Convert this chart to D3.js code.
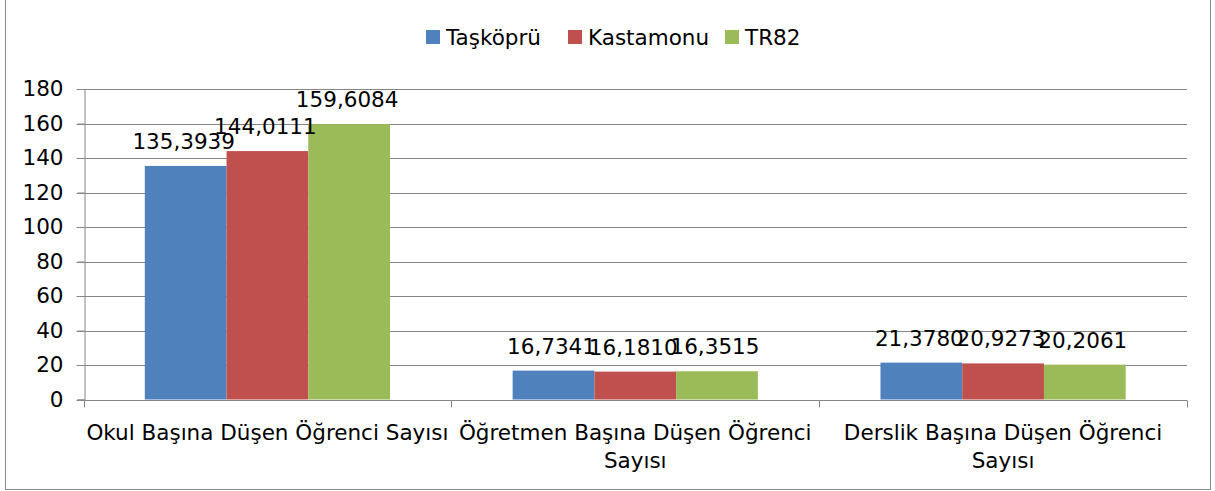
<!DOCTYPE html>
<html>
<head>
<meta charset="utf-8">
<style>
  body { margin: 0; background: white; font-family: "DejaVu Sans", Verdana, sans-serif; }
  svg text { fill: #000; }
</style>
</head>
<body>
<svg id="chart" width="1215" height="491"></svg>
<script src="https://cdn.jsdelivr.net/npm/d3@7/dist/d3.min.js"></script>
<script>
  // data
  var categories = ["Okul Başına Düşen Öğrenci Sayısı", "Öğretmen Başına Düşen Öğrenci Sayısı", "Derslik Başına Düşen Öğrenci Sayısı"];
  var seriesNames = ["Taşköprü", "Kastamonu", "TR82"];
  var taskopru = [135.3939, 16.7341, 21.3780];
  var kastamonu = [144.0111, 16.1810, 20.9273];
  var tr82 = [159.6084, 16.3515, 20.2061];
  var yTicks = [0, 20, 40, 60, 80, 100, 120, 140, 160, 180];
  var colors = ["#4F81BD", "#C0504D", "#9BBB59"];

  var values = [taskopru, kastamonu, tr82];
  var fontSize = "21.5px";
  var svg = d3.select("#chart");
  var margin = { left: 83.5, right: 1187, top: 89, bottom: 399.5 };

  // outer frame
  svg.append("rect")
    .attr("x", 5.5).attr("y", -5)
    .attr("width", 1205).attr("height", 494.5)
    .attr("fill", "none").attr("stroke", "#8c8c8c").attr("stroke-width", 1);

  var x0 = d3.scaleBand()
    .domain(categories)
    .range([margin.left, margin.right])
    .paddingInner(0).paddingOuter(0);
  // gap width 150% -> each side 0.75 bar
  var x1 = d3.scaleBand()
    .domain(seriesNames)
    .range([0, x0.bandwidth()])
    .paddingInner(0)
    .paddingOuter(0.75);
  var y = d3.scaleLinear().domain([0, 180]).range([margin.bottom, margin.top]);

  // gridlines
  svg.append("g").selectAll("line")
    .data(yTicks.filter(function(d){ return d > 0; }))
    .join("line")
    .attr("x1", margin.left - 7).attr("x2", margin.right)
    .attr("y1", function(d){ return Math.round(y(d)) + 0.5; })
    .attr("y2", function(d){ return Math.round(y(d)) + 0.5; })
    .attr("stroke", "#868686");

  // bars
  seriesNames.forEach(function(s, si){
    svg.append("g").selectAll("rect")
      .data(values[si])
      .join("rect")
      .attr("x", function(d, i){ return x0(categories[i]) + x1(s); })
      .attr("y", function(d){ return y(d); })
      .attr("width", x1.bandwidth())
      .attr("height", function(d){ return y(0) - y(d); })
      .attr("fill", colors[si]);
  });

  // y axis
  var yAxis = svg.append("g")
    .attr("transform", "translate(" + (Math.round(margin.left) + 0.5) + ",0)")
    .call(d3.axisLeft(y).tickValues(yTicks).tickSize(7).tickPadding(14));
  yAxis.select(".domain").attr("stroke", "#868686");
  yAxis.selectAll(".tick line").attr("stroke", "#868686");
  yAxis.selectAll(".tick text")
    .attr("font-family", "DejaVu Sans").attr("font-size", fontSize).attr("fill", "#000");

  // x axis
  var xBase = svg.append("g")
    .attr("transform", "translate(0," + (Math.round(margin.bottom) + 0.5) + ")");
  xBase.append("line")
    .attr("x1", margin.left - 7).attr("x2", margin.right)
    .attr("stroke", "#868686");
  xBase.selectAll("line.tk")
    .data([0, 1, 2, 3])
    .join("line")
    .attr("class", "tk")
    .attr("x1", function(i){ return Math.round(margin.left + i * x0.bandwidth()) + 0.5; })
    .attr("x2", function(i){ return Math.round(margin.left + i * x0.bandwidth()) + 0.5; })
    .attr("y1", 0).attr("y2", 7)
    .attr("stroke", "#868686");

  // category labels with wrapping
  var catText = svg.append("g").selectAll("text")
    .data(categories)
    .join("text")
    .attr("x", function(d){ return x0(d) + x0.bandwidth() / 2; })
    .attr("y", 440)
    .attr("text-anchor", "middle")
    .attr("font-size", fontSize);
  catText.each(function(d){
    var el = d3.select(this);
    var words = d.split(" ");
    var lines = [];
    var line = [];
    var maxW = x0.bandwidth();
    var probe = el.append("tspan");
    words.forEach(function(w){
      var test = line.concat([w]).join(" ");
      probe.text(test);
      if (probe.node().getComputedTextLength() > maxW && line.length) {
        lines.push(line.join(" "));
        line = [w];
      } else {
        line.push(w);
      }
    });
    lines.push(line.join(" "));
    probe.remove();
    lines.forEach(function(l, li){
      el.append("tspan")
        .attr("x", el.attr("x"))
        .attr("dy", li === 0 ? 0 : 28)
        .text(l);
    });
  });

  // data labels
  seriesNames.forEach(function(s, si){
    svg.append("g").selectAll("text")
      .data(values[si])
      .join("text")
      .attr("x", function(d, i){ return x0(categories[i]) + x1(s) + x1.bandwidth() / 2 - 2; })
      .attr("y", function(d){ return y(d) - 17; })
      .attr("text-anchor", "middle")
      .attr("font-size", fontSize)
      .text(function(d){ return d.toFixed(4).replace(".", ","); });
  });

  // legend
  var legendX = [426, 568, 725];
  var legend = svg.append("g").selectAll("g")
    .data(seriesNames)
    .join("g")
    .attr("transform", function(d, i){ return "translate(" + legendX[i] + ",30)"; });
  legend.append("rect")
    .attr("width", 14).attr("height", 14)
    .attr("fill", function(d, i){ return colors[i]; });
  legend.append("text")
    .attr("x", 20).attr("y", 15)
    .attr("font-size", fontSize)
    .text(function(d){ return d; });
</script>
</body>
</html>
